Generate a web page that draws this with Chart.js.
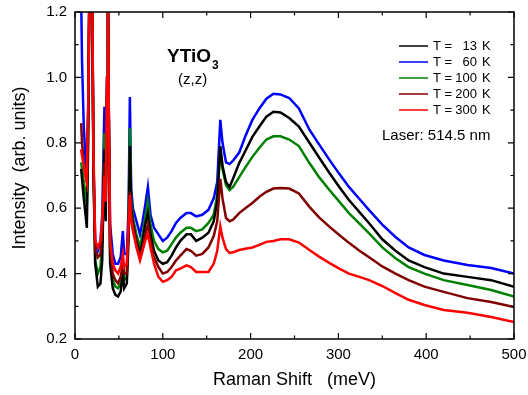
<!DOCTYPE html>
<html>
<head>
<meta charset="utf-8">
<script src="https://cdn.jsdelivr.net/npm/chart.js@4/dist/chart.umd.min.js"></script>
<style>
  html, body { margin: 0; padding: 0; background: #fff; }
  #wrap { width: 528px; height: 395px; }
</style>
</head>
<body>
<div id="wrap"><canvas id="raman" width="528" height="395"></canvas></div>
<script>
// Raman shift (meV), shared by all spectra
const ramanShift = [7, 8, 10, 12, 13.5, 15, 16.5, 18, 19.5, 21, 23, 26, 29, 31, 33.5, 35, 36.5, 37.5, 38.5, 40,
  43, 46, 49, 52, 54.5, 56, 59, 61, 62.5, 64, 66, 70, 74, 77, 80, 83, 86, 90, 95, 100,
  105, 110, 115, 120, 127, 132, 138, 145, 152, 158, 162, 165.5, 168, 172, 176, 180, 187, 194, 202, 210,
  218, 226, 234, 244, 255, 267, 278, 290, 301, 312, 324, 335, 350, 365, 380, 398, 420, 447, 474, 500];

// intensity (arb. units), one list per temperature
const int13K = [0.72, 0.69, 0.63, 0.58, 0.54, 0.80, 1.3, 1.3, 1.3, 0.72, 0.43, 0.36, 0.37, 0.44, 0.78, 0.56, 0.95, 1.3, 0.85, 0.43,
  0.355, 0.335, 0.33, 0.345, 0.40, 0.355, 0.37, 0.50, 0.79, 0.60, 0.55, 0.50, 0.46, 0.50, 0.55, 0.585, 0.52, 0.47, 0.44, 0.43,
  0.435, 0.455, 0.48, 0.50, 0.52, 0.52, 0.50, 0.51, 0.525, 0.56, 0.62, 0.79, 0.73, 0.68, 0.665, 0.69, 0.738, 0.775, 0.818, 0.85,
  0.88, 0.895, 0.893, 0.876, 0.85, 0.80, 0.755, 0.707, 0.665, 0.625, 0.588, 0.554, 0.505, 0.47, 0.44, 0.42, 0.40, 0.39, 0.38, 0.36];
const int60K = [1.25, 1.05, 0.85, 0.75, 0.70, 0.90, 1.3, 1.3, 1.3, 0.75, 0.50, 0.47, 0.50, 0.58, 0.91, 0.68, 1.0, 1.3, 0.9, 0.55,
  0.46, 0.43, 0.43, 0.45, 0.53, 0.46, 0.46, 0.60, 0.94, 0.66, 0.60, 0.56, 0.52, 0.56, 0.61, 0.665, 0.58, 0.54, 0.52, 0.50,
  0.51, 0.53, 0.555, 0.57, 0.585, 0.585, 0.575, 0.58, 0.595, 0.63, 0.68, 0.87, 0.80, 0.74, 0.735, 0.745, 0.77, 0.82, 0.87, 0.905,
  0.935, 0.95, 0.948, 0.937, 0.905, 0.84, 0.795, 0.747, 0.705, 0.665, 0.628, 0.594, 0.55, 0.512, 0.48, 0.457, 0.44, 0.426, 0.417, 0.40];
const int100K = [0.74, 0.72, 0.68, 0.64, 0.61, 0.85, 1.3, 1.3, 1.3, 0.72, 0.44, 0.40, 0.42, 0.50, 0.83, 0.60, 0.98, 1.3, 0.88, 0.45,
  0.38, 0.36, 0.355, 0.37, 0.43, 0.38, 0.39, 0.55, 0.845, 0.63, 0.57, 0.52, 0.48, 0.52, 0.57, 0.62, 0.55, 0.50, 0.475, 0.465,
  0.47, 0.49, 0.51, 0.525, 0.54, 0.54, 0.53, 0.535, 0.555, 0.58, 0.64, 0.785, 0.72, 0.67, 0.655, 0.665, 0.695, 0.725, 0.757, 0.785,
  0.81, 0.82, 0.82, 0.81, 0.79, 0.738, 0.695, 0.655, 0.62, 0.585, 0.553, 0.523, 0.48, 0.447, 0.42, 0.40, 0.38, 0.365, 0.35, 0.33];
const int200K = [0.86, 0.80, 0.74, 0.70, 0.68, 0.90, 1.3, 1.3, 1.3, 0.75, 0.47, 0.45, 0.46, 0.53, 0.74, 0.62, 1.0, 1.3, 0.9, 0.48,
  0.40, 0.38, 0.37, 0.39, 0.43, 0.40, 0.40, 0.55, 0.65, 0.58, 0.55, 0.49, 0.45, 0.48, 0.52, 0.55, 0.50, 0.45, 0.42, 0.40,
  0.405, 0.42, 0.44, 0.455, 0.475, 0.47, 0.455, 0.46, 0.48, 0.515, 0.56, 0.69, 0.63, 0.57, 0.56, 0.565, 0.585, 0.60, 0.616, 0.635,
  0.65, 0.66, 0.662, 0.66, 0.645, 0.604, 0.572, 0.543, 0.518, 0.494, 0.47, 0.45, 0.422, 0.40, 0.38, 0.36, 0.344, 0.325, 0.313, 0.298];
const int300K = [0.78, 0.76, 0.73, 0.70, 0.68, 0.90, 1.3, 1.3, 1.3, 0.78, 0.50, 0.48, 0.50, 0.56, 0.70, 0.62, 1.0, 1.3, 0.9, 0.50,
  0.43, 0.41, 0.40, 0.42, 0.46, 0.42, 0.43, 0.55, 0.64, 0.56, 0.53, 0.48, 0.44, 0.47, 0.50, 0.52, 0.48, 0.43, 0.39, 0.375,
  0.38, 0.39, 0.41, 0.415, 0.425, 0.42, 0.405, 0.405, 0.405, 0.43, 0.47, 0.545, 0.51, 0.475, 0.463, 0.465, 0.472, 0.476, 0.48, 0.488,
  0.497, 0.50, 0.505, 0.505, 0.495, 0.472, 0.452, 0.432, 0.415, 0.40, 0.39, 0.38, 0.362, 0.34, 0.32, 0.304, 0.289, 0.28, 0.267, 0.252];

const seriesLabels = ['T =   13 K', 'T =   60 K', 'T = 100 K', 'T = 200 K', 'T = 300 K'];
const tempValues = ['13', '60', '100', '200', '300'];
const xMajorTicks = [0, 100, 200, 300, 400, 500];
const xMinorTicks = [50, 150, 250, 350, 450];
const yMajorTicks = [0.2, 0.4, 0.6, 0.8, 1.0, 1.2];
const yMinorTicks = [0.3, 0.5, 0.7, 0.9, 1.1];

const FONT = "'Liberation Sans', Arial, sans-serif";
const colors = ['#000000', '#0000ff', '#008000', '#800000', '#ff0000'];
const drawOrder = [2, 4, 3, 1, 0]; // red on top

function pts(arr) {
  return ramanShift.map((x, i) => ({ x: x, y: arr[i] }));
}

const allSeries = [int13K, int60K, int100K, int200K, int300K];

const datasets = allSeries.map((arr, i) => ({
  label: seriesLabels[i],
  data: pts(arr),
  borderColor: colors[i],
  backgroundColor: colors[i],
  borderWidth: 2.5,
  pointRadius: 0,
  tension: 0,
  fill: false,
  clip: 0,
  order: drawOrder[i]
}));

// frame, inward ticks on all sides, legend and labels
const decorations = {
  id: 'decorations',
  afterDatasetsDraw(chart) {
    const { ctx, chartArea: a, scales } = chart;
    const xs = scales.x, ys = scales.y;
    ctx.save();
    ctx.strokeStyle = '#000';
    ctx.lineWidth = 1.5;
    ctx.strokeRect(a.left, a.top, a.right - a.left, a.bottom - a.top);

    ctx.lineWidth = 1.2;
    ctx.beginPath();
    const xt = (v, len) => {
      const p = xs.getPixelForValue(v);
      ctx.moveTo(p, a.bottom); ctx.lineTo(p, a.bottom - len);
      ctx.moveTo(p, a.top); ctx.lineTo(p, a.top + len);
    };
    const yt = (v, len) => {
      const p = ys.getPixelForValue(v);
      ctx.moveTo(a.left, p); ctx.lineTo(a.left + len, p);
      ctx.moveTo(a.right, p); ctx.lineTo(a.right - len, p);
    };
    xMajorTicks.forEach(v => xt(v, 6));
    xMinorTicks.forEach(v => xt(v, 3.5));
    yMajorTicks.forEach(v => yt(v, 6));
    yMinorTicks.forEach(v => yt(v, 3.5));
    ctx.stroke();

    // legend
    ctx.font = '13px ' + FONT;
    ctx.textBaseline = 'middle';
    chart.data.datasets.forEach((ds, i) => {
      const yy = 46 + i * 16;
      ctx.strokeStyle = ds.borderColor;
      ctx.lineWidth = 1.5;
      ctx.beginPath();
      ctx.moveTo(399, yy); ctx.lineTo(428, yy);
      ctx.stroke();
      ctx.fillStyle = '#000';
      ctx.textAlign = 'left';
      ctx.fillText('T =', 433, yy);
      ctx.textAlign = 'right';
      ctx.fillText(tempValues[i], 477, yy);
      ctx.textAlign = 'left';
      ctx.fillText('K', 482, yy);
    });

    ctx.font = '15px ' + FONT;
    ctx.textAlign = 'left';
    ctx.fillText('Laser: 514.5 nm', 382, 136);

    // sample label
    ctx.textBaseline = 'alphabetic';
    ctx.font = 'bold 19px ' + FONT;
    ctx.fillText('YTiO', 167, 62);
    const w = ctx.measureText('YTiO').width;
    ctx.font = 'bold 12px ' + FONT;
    ctx.fillText('3', 167 + w + 1, 69);
    ctx.font = '15px ' + FONT;
    ctx.fillText('(z,z)', 178, 84);
    ctx.restore();
  }
};

new Chart(document.getElementById('raman'), {
  type: 'line',
  data: { datasets: datasets },
  options: {
    responsive: false,
    animation: false,
    layout: { padding: { top: 12, right: 14, left: 0, bottom: 0 } },
    plugins: { legend: { display: false }, tooltip: { enabled: false } },
    scales: {
      x: {
        type: 'linear',
        min: 0,
        max: 500,
        afterFit: s => { s.height = 56; s.paddingLeft = 0; s.paddingRight = 0; },
        afterBuildTicks: s => { s.ticks = xMajorTicks.map(v => ({ value: v })); },
        grid: { display: false, drawTicks: false },
        border: { display: false },
        ticks: { color: '#000', padding: 7, font: { family: FONT, size: 15 } },
        title: { display: true, text: 'Raman Shift   (meV)', color: '#000', font: { family: FONT, size: 18 }, padding: { top: 0, bottom: 4 } }
      },
      y: {
        type: 'linear',
        min: 0.2,
        max: 1.2,
        afterFit: s => { s.width = 75; s.paddingTop = 0; s.paddingBottom = 0; },
        afterBuildTicks: s => { s.ticks = yMajorTicks.map(v => ({ value: v })); },
        grid: { display: false, drawTicks: false },
        border: { display: false },
        ticks: { color: '#000', padding: 8, font: { family: FONT, size: 15 }, callback: v => v.toFixed(1) },
        title: { display: true, text: '   Intensity  (arb. units)', color: '#000', font: { family: FONT, size: 18 }, padding: { top: 9, bottom: 0 } }
      }
    }
  },
  plugins: [decorations]
});
</script>
</body>
</html>
